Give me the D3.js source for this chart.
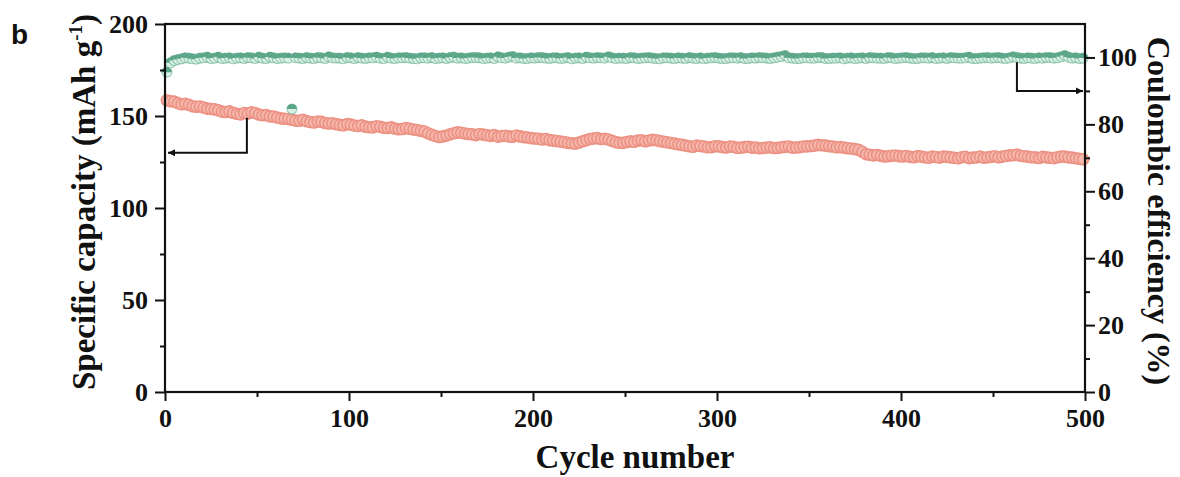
<!DOCTYPE html>
<html><head><meta charset="utf-8">
<script src="https://cdn.jsdelivr.net/npm/d3@7/dist/d3.min.js"></script>
<style>
html,body{margin:0;padding:0;background:#fff;}
svg{display:block;}
.tick text{font-family:"Liberation Serif","Times New Roman",serif;font-weight:bold;font-size:26px;fill:#111;}
</style></head>
<body>
<svg id="chart" width="1180" height="477"></svg>
<script>
// ---- data (every 2nd cycle) ----
const cycles = d3.range(1, 501, 2);
const capacity = [
158.6,158.0,157.8,157.0,156.4,156.6,156.1,155.3,155.0,155.2,
154.6,154.0,153.8,153.6,153.1,152.4,152.2,152.5,151.8,151.2,
150.9,151.6,151.3,152.0,151.6,150.8,150.4,150.5,149.8,149.7,
149.2,148.7,148.5,148.4,148.0,147.5,147.4,147.9,147.2,146.7,
146.5,147.0,146.8,146.2,145.9,146.1,145.6,145.2,145.0,145.6,
145.3,144.8,144.6,144.9,144.2,143.9,143.8,144.4,144.1,143.6,
143.5,143.8,143.2,142.8,142.9,143.4,143.1,142.7,142.4,142.0,
141.6,140.6,139.8,139.1,138.6,138.9,139.4,140.1,140.6,141.1,
140.9,140.5,140.2,140.0,139.6,140.2,139.9,139.5,139.2,139.6,
138.8,139.1,139.3,138.9,138.7,139.4,138.9,138.5,138.3,138.0,
137.8,137.6,137.2,137.5,136.9,136.6,136.4,136.1,135.8,135.4,
135.2,135.0,135.6,136.3,136.9,137.5,137.8,138.0,137.5,137.6,
137.2,136.5,135.8,135.5,135.4,135.9,136.2,136.0,136.6,136.8,
136.3,136.7,137.0,136.8,136.4,136.0,135.7,135.3,135.0,134.6,
134.3,133.9,133.6,133.3,133.9,133.7,133.4,133.0,133.1,133.6,
133.5,133.1,132.9,133.4,133.2,132.7,132.8,133.1,133.3,132.8,
132.9,132.5,132.6,132.9,133.0,132.6,132.7,133.0,133.2,133.4,
132.8,132.9,133.1,133.4,133.5,133.7,133.9,134.3,134.1,133.9,
133.6,133.4,133.0,133.1,132.8,132.5,132.3,132.0,131.6,130.6,
129.3,128.9,128.6,128.8,128.4,128.0,128.1,128.4,128.5,128.2,
128.0,128.3,127.8,127.6,128.2,127.9,127.6,127.3,127.9,127.7,
127.4,127.9,127.8,127.5,127.3,127.0,127.6,127.8,127.1,127.4,
127.5,127.9,127.3,127.6,127.8,128.1,127.6,127.9,128.3,128.6,
128.7,129.0,128.4,128.1,127.9,127.6,127.5,127.2,127.8,127.5,
127.3,127.1,127.6,127.9,127.9,127.5,127.4,127.0,126.8,126.5];
const efficiency = [
95.6,98.4,99.1,99.4,99.6,99.9,99.8,99.6,99.5,99.8,
99.9,100.1,99.7,99.8,100.1,99.7,99.8,99.9,99.6,99.8,
99.9,99.7,100.0,99.9,99.7,100.1,99.8,99.7,100.1,99.9,
99.7,99.8,99.9,99.8,84.6,99.9,99.8,99.7,100.0,99.8,
99.7,100.0,99.9,99.7,100.2,99.9,99.8,99.8,99.6,100.0,
99.9,99.7,100.0,99.8,99.7,99.9,99.9,100.1,99.8,99.7,
100.1,99.8,99.7,99.9,99.9,100.0,99.8,99.7,99.6,99.9,
99.9,99.8,100.0,99.7,99.8,99.9,99.7,100.0,100.1,99.8,
99.9,99.7,99.8,100.0,100.0,99.9,99.7,99.8,99.9,99.7,
100.2,99.9,99.8,100.1,100.3,99.8,99.9,99.7,99.7,99.9,
99.8,100.0,100.0,99.8,99.7,99.9,99.9,99.7,99.8,100.0,
99.6,99.8,99.9,99.7,100.1,99.9,99.8,100.0,99.9,99.8,
100.2,99.9,99.7,99.8,99.8,99.7,100.0,99.9,99.7,99.8,
99.9,100.0,99.8,99.7,99.6,99.9,99.9,99.8,99.7,99.9,
99.8,99.7,100.0,99.8,99.7,99.9,99.6,99.8,99.9,100.0,
99.8,99.7,99.7,99.9,99.9,99.8,100.0,99.7,99.7,99.9,
99.8,100.0,99.9,99.8,99.7,99.9,100.1,100.3,100.6,99.9,
99.8,99.7,99.7,99.9,99.9,99.8,99.8,100.0,100.0,99.7,
99.7,99.8,99.8,99.9,99.6,99.8,99.9,99.7,99.8,99.9,
99.7,100.0,99.9,99.8,99.8,99.7,100.0,99.9,99.7,99.8,
99.9,100.0,99.8,99.7,99.7,99.9,99.9,99.8,100.0,99.7,
99.8,99.9,99.7,100.0,99.9,99.8,99.8,99.9,100.1,99.7,
99.7,99.8,99.9,100.0,99.8,99.9,100.0,99.8,99.7,99.9,
100.2,100.0,99.8,99.7,99.9,99.8,99.7,99.9,99.8,100.0,
100.0,99.8,99.9,100.2,100.6,100.1,99.8,99.9,99.7,99.8];
const xTicks = [0,100,200,300,400,500];
const xMinor = [50,150,250,350,450];
const yLeftTicks = [0,50,100,150,200];
const yLeftMinor = [25,75,125,175];
const yRightTicks = [0,20,40,60,80,100];
const yRightMinor = [10,30,50,70,90];

// ---- layout ----
const L = 165, R = 1085, T = 24, B = 392;
const svg = d3.select("#chart");
const x = d3.scaleLinear().domain([0,500]).range([L,R]);
const yL = d3.scaleLinear().domain([0,200]).range([B,T]);
const yR = d3.scaleLinear().domain([0,110]).range([B,T]);

const red = "#ec9183", redFill = "#f5b8ad";
const green = "#5aa587", greenLight = "#d9f0e7";
const rR = 5.5, rG = 5;

// capacity markers
svg.append("g").selectAll("circle").data(cycles).join("circle")
  .attr("cx", (c) => x(c)).attr("cy", (c,i) => yL(capacity[i])).attr("r", rR)
  .attr("fill", redFill).attr("stroke", red).attr("stroke-width", 1.6);

// efficiency markers (half-up circles)
const g2 = svg.append("g").selectAll("g").data(cycles).join("g")
  .attr("transform", (c,i) => `translate(${x(c)},${yR(efficiency[i])})`);
g2.append("circle").attr("r", rG).attr("fill", greenLight).attr("stroke", green).attr("stroke-width", 1.1).attr("stroke-opacity",0.55);
g2.append("path").attr("d", `M${-rG},0 A${rG},${rG} 0 0 1 ${rG},0 Z`).attr("fill", green);

// ---- axes ----
function styleAxis(g){
  g.select(".domain").remove();
  g.selectAll(".tick line").attr("stroke","#111").attr("stroke-width",2);
}
svg.append("g").attr("transform",`translate(${L},0)`)
  .call(d3.axisLeft(yL).tickValues(yLeftTicks).tickSize(10).tickPadding(7)).call(styleAxis);
svg.append("g").attr("transform",`translate(${L},0)`)
  .call(d3.axisLeft(yL).tickValues(yLeftMinor).tickSize(5).tickFormat("")).call(styleAxis);
svg.append("g").attr("transform",`translate(${R},0)`)
  .call(d3.axisRight(yR).tickValues(yRightTicks).tickSize(10).tickPadding(3)).call(styleAxis);
svg.append("g").attr("transform",`translate(${R},0)`)
  .call(d3.axisRight(yR).tickValues(yRightMinor).tickSize(5).tickFormat("")).call(styleAxis);
svg.append("g").attr("transform",`translate(0,${B})`)
  .call(d3.axisBottom(x).tickValues(xTicks).tickSize(9).tickPadding(8)).call(styleAxis);
svg.append("g").attr("transform",`translate(0,${B})`)
  .call(d3.axisBottom(x).tickValues(xMinor).tickSize(5).tickFormat("")).call(styleAxis);

// frame
svg.append("rect").attr("x",L).attr("y",T).attr("width",R-L).attr("height",B-T)
  .attr("fill","none").attr("stroke","#111").attr("stroke-width",2.2);

// ---- arrows ----
const defs = svg.append("defs");
defs.append("marker").attr("id","ah").attr("viewBox","0 0 10 10").attr("refX",10).attr("refY",5)
  .attr("markerWidth",11).attr("markerHeight",7).attr("markerUnits","userSpaceOnUse").attr("orient","auto")
  .append("path").attr("d","M0,0 L10,5 L0,10 Z").attr("fill","#111");
svg.append("path")
  .attr("d",`M${x(44.5)},${yL(149)} V${yL(130)} H${x(0)+3}`)
  .attr("fill","none").attr("stroke","#111").attr("stroke-width",2).attr("marker-end","url(#ah)");
svg.append("path")
  .attr("d",`M${x(463)},${yR(98.6)} V${yR(90)} H${x(500)-2}`)
  .attr("fill","none").attr("stroke","#111").attr("stroke-width",2).attr("marker-end","url(#ah)");

// ---- titles ----
const serif = '"Liberation Serif","Times New Roman",serif';
svg.append("text").attr("x",635).attr("y",468).attr("text-anchor","middle")
  .style("font-family",serif).style("font-weight","bold").style("font-size","33px").attr("fill","#111")
  .text("Cycle number");
const yt = svg.append("text").attr("transform",`translate(95,${(T+B)/2 - 6}) rotate(-90)`).attr("text-anchor","middle")
  .style("font-family",serif).style("font-weight","bold").style("font-size","33px").attr("fill","#111");
yt.append("tspan").text("Specific capacity (mAh g");
yt.append("tspan").attr("dy",-13).style("font-size","19px").text("-1");
yt.append("tspan").attr("dy",13).text(")");
svg.append("text").attr("transform",`translate(1148,${(T+B)/2 + 3}) rotate(90)`).attr("text-anchor","middle")
  .style("font-family",serif).style("font-weight","bold").style("font-size","32px").attr("fill","#111")
  .text("Coulombic efficiency (%)");
svg.append("text").attr("x",11).attr("y",44)
  .style("font-family",'"Liberation Sans",Arial,sans-serif').style("font-weight","bold").style("font-size","28px").attr("fill","#111")
  .text("b");
</script>
</body></html>
